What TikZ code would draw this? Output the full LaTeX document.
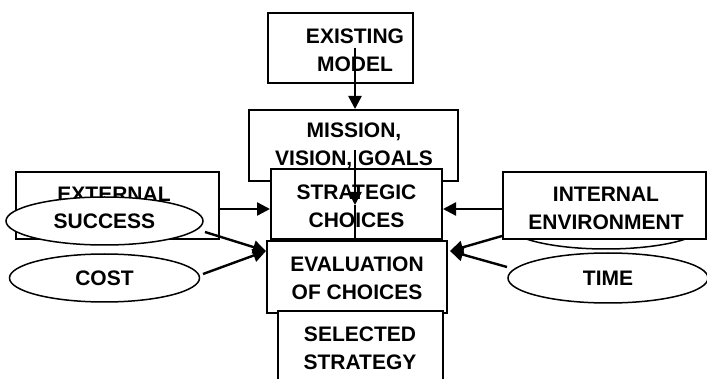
\documentclass[tikz,border=0pt]{standalone}
\usepackage{fontspec}
\setmainfont{Liberation Sans}
\usetikzlibrary{arrows.meta,shapes.geometric}
\begin{document}
\begin{tikzpicture}[x=1pt,y=-1pt,
 box/.style={draw=black, line width=2pt, fill=white, rectangle, inner sep=0pt},
 oval/.style={draw=black, line width=1.5pt, fill=white, ellipse, inner sep=0pt, font=\bfseries\fontsize{21}{28}\selectfont},
 lbl/.style={font=\bfseries\fontsize{21}{28}\selectfont, align=center, inner sep=0pt},
 conn/.style={line width=2.4pt},
 arr/.style={line width=2.4pt, -{Triangle[length=13pt,width=13pt]}},
]
\useasboundingbox (0,0) rectangle (707,379);
\clip (0,0) rectangle (707,379);
\fill[white] (0,0) rectangle (707,379);

% centre column
\node[box, minimum width=145, minimum height=70] (exist) at (340.5,48) {};
\node[lbl] (existT) at (355,50) {EXISTING\\MODEL};
\node[box, minimum width=209, minimum height=71] (mission) at (353.5,145.5) {};
\node[lbl] (missionT) at (354,146) {MISSION,\\VISION, GOALS};
\node[box, minimum width=171, minimum height=70] (strat) at (356.5,204) {};
\node[lbl] (stratT) at (356.5,206.5) {STRATEGIC\\CHOICES};
\node[box, minimum width=180, minimum height=72] (eval) at (357,277) {};
\node[lbl] (evalT) at (357,278) {EVALUATION\\OF CHOICES};
\node[box, minimum width=165, minimum height=100] (sel) at (360.5,361) {};
\node[lbl] (selT) at (360,348) {SELECTED\\STRATEGY};

% left side
\node[box, minimum width=203, minimum height=67] (ext) at (117.5,205.5) {};
\node[lbl] (extT) at (114,194.5) {EXTERNAL};
\node[oval, minimum width=197, minimum height=48] (succ) at (104.5,221) {SUCCESS};
\node[oval, minimum width=190, minimum height=48] (cost) at (104.5,278) {COST};

% right side
\node[oval, minimum width=196, minimum height=48] (hid) at (606,225) {};
\node[box, minimum width=203, minimum height=67] (int) at (604.5,205.5) {};
\node[lbl] (intT) at (606,208.5) {INTERNAL\\ENVIRONMENT};
\node[oval, minimum width=200, minimum height=50] (time) at (608,278) {TIME};

% connectors
\coordinate (a1) at (355,48);
\draw[arr] (a1) -- (a1 |- mission.north);
\coordinate (a2) at (355,150);
\coordinate (a2m) at (355,205);
\draw[arr] (a2) -- (a2m);
\draw[conn] (a2m) -- (a2 |- eval.north);

\coordinate (e1) at (219,209);
\draw[arr] (e1) -- (e1 -| strat.west);
\coordinate (i1) at (503,209);
\draw[arr] (i1) -- (i1 -| strat.east);

\coordinate (evL) at (266,251);
\coordinate (evR) at (450,251);
\coordinate (sA) at (205,232);
\coordinate (cA) at (203,274);
\coordinate (iA) at (502,236);
\coordinate (tA) at (507,267);
\draw[arr] (sA) -- (evL);
\draw[arr] (cA) -- (evL);
\draw[arr] (iA) -- (evR);
\draw[arr] (tA) -- (evR);
\end{tikzpicture}
\end{document}
